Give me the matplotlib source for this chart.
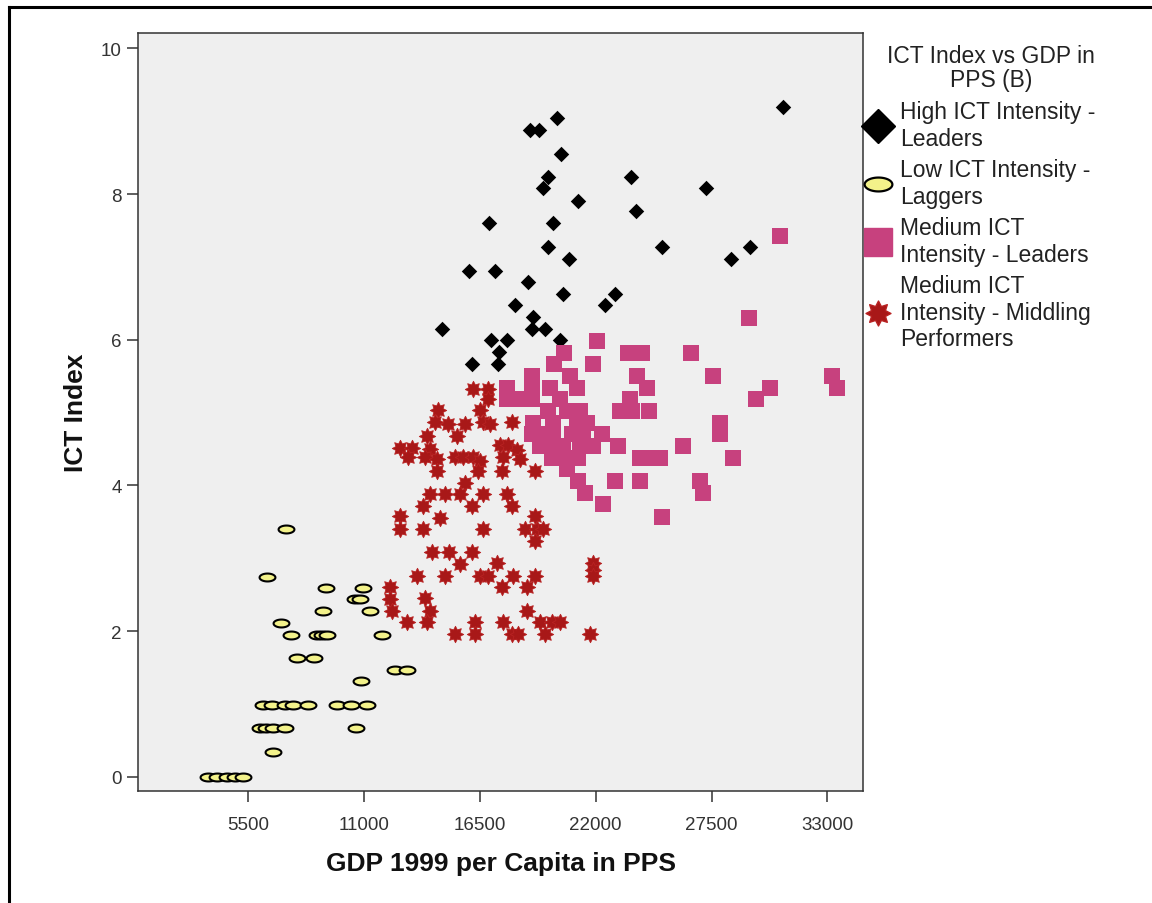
import numpy as np
import matplotlib
matplotlib.use('Agg')
import matplotlib.pyplot as plt
from matplotlib.path import Path
from matplotlib.lines import Line2D

plt.rcParams['font.family'] = ['Liberation Sans', 'DejaVu Sans']

# High ICT Intensity - Leaders
hi_x = [30880, 20150, 18880, 19310, 20340, 19720, 23660, 19510, 27240, 21140,
        23910, 16950, 19960, 19750, 25160, 29330, 20730, 28410, 16000, 17200,
        18770, 20460, 22920, 22440, 18180, 19040, 18960, 19590, 14720, 17010,
        17800, 20300, 17420, 16110, 17380]
hi_y = [9.20, 9.04, 8.88, 8.88, 8.55, 8.24, 8.24, 8.08, 8.08, 7.91,
        7.76, 7.60, 7.60, 7.27, 7.27, 7.27, 7.11, 7.11, 6.95, 6.95,
        6.79, 6.63, 6.63, 6.47, 6.47, 6.31, 6.15, 6.15, 6.15, 5.99,
        5.99, 5.99, 5.83, 5.67, 5.67]

# Low ICT Intensity - Laggers
lo_x = [7280, 6370, 9180, 10930, 10570, 10800, 9030, 11280, 7040, 7530,
        8750, 9000, 9240, 11840, 7800, 8620, 12470, 13020, 10840, 6210,
        6610, 7240, 7640, 8320, 9700, 10360, 11150, 6060, 6340, 6660,
        7240, 10600, 6690, 3580, 3990, 4470, 4860, 5260]
lo_y = [3.40, 2.75, 2.59, 2.59, 2.44, 2.44, 2.27, 2.27, 2.11, 1.95,
        1.95, 1.95, 1.95, 1.95, 1.63, 1.63, 1.47, 1.47, 1.31, 0.99,
        0.99, 0.99, 0.99, 0.99, 0.99, 0.99, 0.99, 0.67, 0.67, 0.67,
        0.67, 0.67, 0.34, 0, 0, 0, 0, 0]

# Medium ICT Intensity - Leaders
ml_x = [29300, 22080, 26530, 23550, 24180, 20490, 21860, 20020, 27590, 33210,
        33440, 30280, 29610, 23950, 24420, 23630, 23150, 23710, 24530, 20780,
        21100, 19830, 18960, 17770, 18400, 18960, 20300, 19750, 20620, 21250,
        19990, 21100, 21570, 18960, 19510, 19990, 20860, 21410, 22280, 23070,
        19350, 20070, 21250, 21890, 27900, 27900, 26130, 24100, 24660, 25050,
        28500, 19910, 20620, 21170, 20620, 21170, 22920, 24100, 26950, 27110,
        21490, 22360, 25160, 30750, 19040, 20460, 17790, 18960, 17770]
ml_y = [6.30, 5.98, 5.82, 5.82, 5.82, 5.82, 5.66, 5.66, 5.50, 5.50,
        5.34, 5.34, 5.18, 5.50, 5.34, 5.18, 5.02, 5.02, 5.02, 5.50,
        5.34, 5.34, 5.50, 5.34, 5.18, 5.18, 5.18, 5.02, 5.02, 5.02,
        4.86, 4.86, 4.86, 4.70, 4.70, 4.70, 4.70, 4.70, 4.70, 4.54,
        4.54, 4.54, 4.54, 4.54, 4.86, 4.70, 4.54, 4.38, 4.38, 4.38,
        4.38, 4.38, 4.38, 4.38, 4.22, 4.06, 4.06, 4.06, 4.06, 3.90,
        3.90, 3.74, 3.57, 7.43, 4.86, 4.54, 5.19, 5.34, 5.18]

# Medium ICT Intensity - Middling Performers
mm_x = [16190, 16900, 16900, 14530, 14370, 15000, 15790, 16500, 16660, 16980,
        18010, 13970, 15400, 12710, 13260, 14130, 13100, 13890, 14450, 15320,
        15710, 16190, 16500, 17450, 17850, 18250, 17610, 18400, 14450, 16430,
        17530, 19120, 15790, 14130, 14840, 15550, 16660, 17770, 13810, 16110,
        18010, 12710, 14600, 19120, 12710, 13810, 16660, 18640, 19200, 19510,
        19120, 14210, 15050, 16110, 15550, 17300, 13500, 14840, 16500, 16900,
        18090, 19120, 21890, 21890, 21890, 17530, 18720, 12230, 12230, 13890,
        12310, 14130, 18720, 13020, 13970, 16270, 17610, 19350, 19910, 20300,
        15320, 16270, 18010, 18320, 19590, 21730]
mm_y = [5.33, 5.33, 5.19, 5.03, 4.87, 4.84, 4.84, 5.03, 4.87, 4.84,
        4.87, 4.68, 4.68, 4.52, 4.52, 4.50, 4.39, 4.39, 4.36, 4.39,
        4.39, 4.39, 4.34, 4.55, 4.55, 4.48, 4.39, 4.36, 4.20, 4.20,
        4.20, 4.20, 4.04, 3.88, 3.88, 3.88, 3.88, 3.88, 3.72, 3.72,
        3.72, 3.585, 3.56, 3.585, 3.40, 3.40, 3.40, 3.40, 3.40, 3.40,
        3.24, 3.09, 3.09, 3.09, 2.92, 2.93, 2.76, 2.76, 2.76, 2.76,
        2.76, 2.76, 2.93, 2.84, 2.76, 2.60, 2.60, 2.60, 2.44, 2.46,
        2.28, 2.28, 2.28, 2.12, 2.12, 2.12, 2.12, 2.12, 2.12, 2.12,
        1.96, 1.96, 1.96, 1.96, 1.96, 1.96]

x_ticks = [5500, 11000, 16500, 22000, 27500, 33000]
y_ticks = [0, 2, 4, 6, 8, 10]
legend_title = 'ICT Index vs GDP in\nPPS (B)'
labels = ['High ICT Intensity -\nLeaders',
          'Low ICT Intensity -\nLaggers',
          'Medium ICT\nIntensity - Leaders',
          'Medium ICT\nIntensity - Middling\nPerformers']

# marker shapes
t = np.linspace(0, 2 * np.pi, 61)
ellipse = Path(np.column_stack([np.cos(t), 0.5 * np.sin(t)]), closed=True)
star = Path.unit_regular_star(8, 0.6)

c_hi = 'black'
c_lo = '#f3f28a'
c_ml = '#c7417e'
c_mm = '#a81818'

fig = plt.figure(figsize=(11.52, 9.04), dpi=100)
ax = fig.add_axes([0.1201, 0.1242, 0.6293, 0.8382])
ax.set_facecolor('#efefef')

ax.scatter(hi_x, hi_y, marker='D', s=62, color=c_hi, linewidths=0, zorder=3)
ax.scatter(lo_x, lo_y, marker=ellipse, s=130, facecolor=c_lo, edgecolor='black',
           linewidths=1.5, zorder=3)
ax.scatter(ml_x, ml_y, marker='s', s=132, color=c_ml, linewidths=0, zorder=3)
ax.scatter(mm_x, mm_y, marker=star, s=140, facecolor=c_mm, edgecolor='#b82222',
           linewidths=0.6, zorder=3)

ax.set_xlim(276, 34710)
ax.set_ylim(-0.19, 10.21)
ax.set_xticks(x_ticks)
ax.set_yticks(y_ticks)
ax.tick_params(direction='out', length=8, width=1.1, color='#333333',
               labelsize=13.5, labelcolor='#333333', pad=4)
ax.tick_params(axis='x', pad=10)
for sp in ax.spines.values():
    sp.set_color('#333333')
    sp.set_linewidth(1.1)

ax.set_xlabel('GDP 1999 per Capita in PPS', fontsize=19, fontweight='bold',
              labelpad=13, color='#111111')
ax.set_ylabel('ICT Index', fontsize=19, fontweight='bold', labelpad=9,
              color='#111111')

handles = [
    Line2D([], [], linestyle='none', marker='D', markersize=17.5,
           markerfacecolor=c_hi, markeredgecolor=c_hi),
    Line2D([], [], linestyle='none', marker=ellipse, markersize=20,
           markerfacecolor=c_lo, markeredgecolor='black', markeredgewidth=1.6),
    Line2D([], [], linestyle='none', marker='s', markersize=20,
           markerfacecolor=c_ml, markeredgecolor=c_ml),
    Line2D([], [], linestyle='none', marker=star, markersize=18,
           markerfacecolor=c_mm, markeredgecolor='#b82222'),
]
leg = ax.legend(handles, labels, loc='upper left', bbox_to_anchor=(1.0, 0.911),
                frameon=False, fontsize=16.5, handlelength=1.3,
                handletextpad=0.3, labelspacing=0.36, borderaxespad=0,
                borderpad=0)
for txt in leg.get_texts():
    txt.set_color('#222222')

ax.text(1.176, 0.955, legend_title, transform=ax.transAxes, ha='center',
        va='center', fontsize=16.5, color='#222222', linespacing=1.05,
        multialignment='center')

# outer frame (top and left edges)
fig.add_artist(Line2D([0.0074, 1.0], [0.9917, 0.9917], transform=fig.transFigure,
                      color='black', linewidth=2.2))
fig.add_artist(Line2D([0.0074, 0.0074], [0.0, 0.9917], transform=fig.transFigure,
                      color='black', linewidth=2.2))

fig.savefig('out.png', dpi=100, facecolor='white')
